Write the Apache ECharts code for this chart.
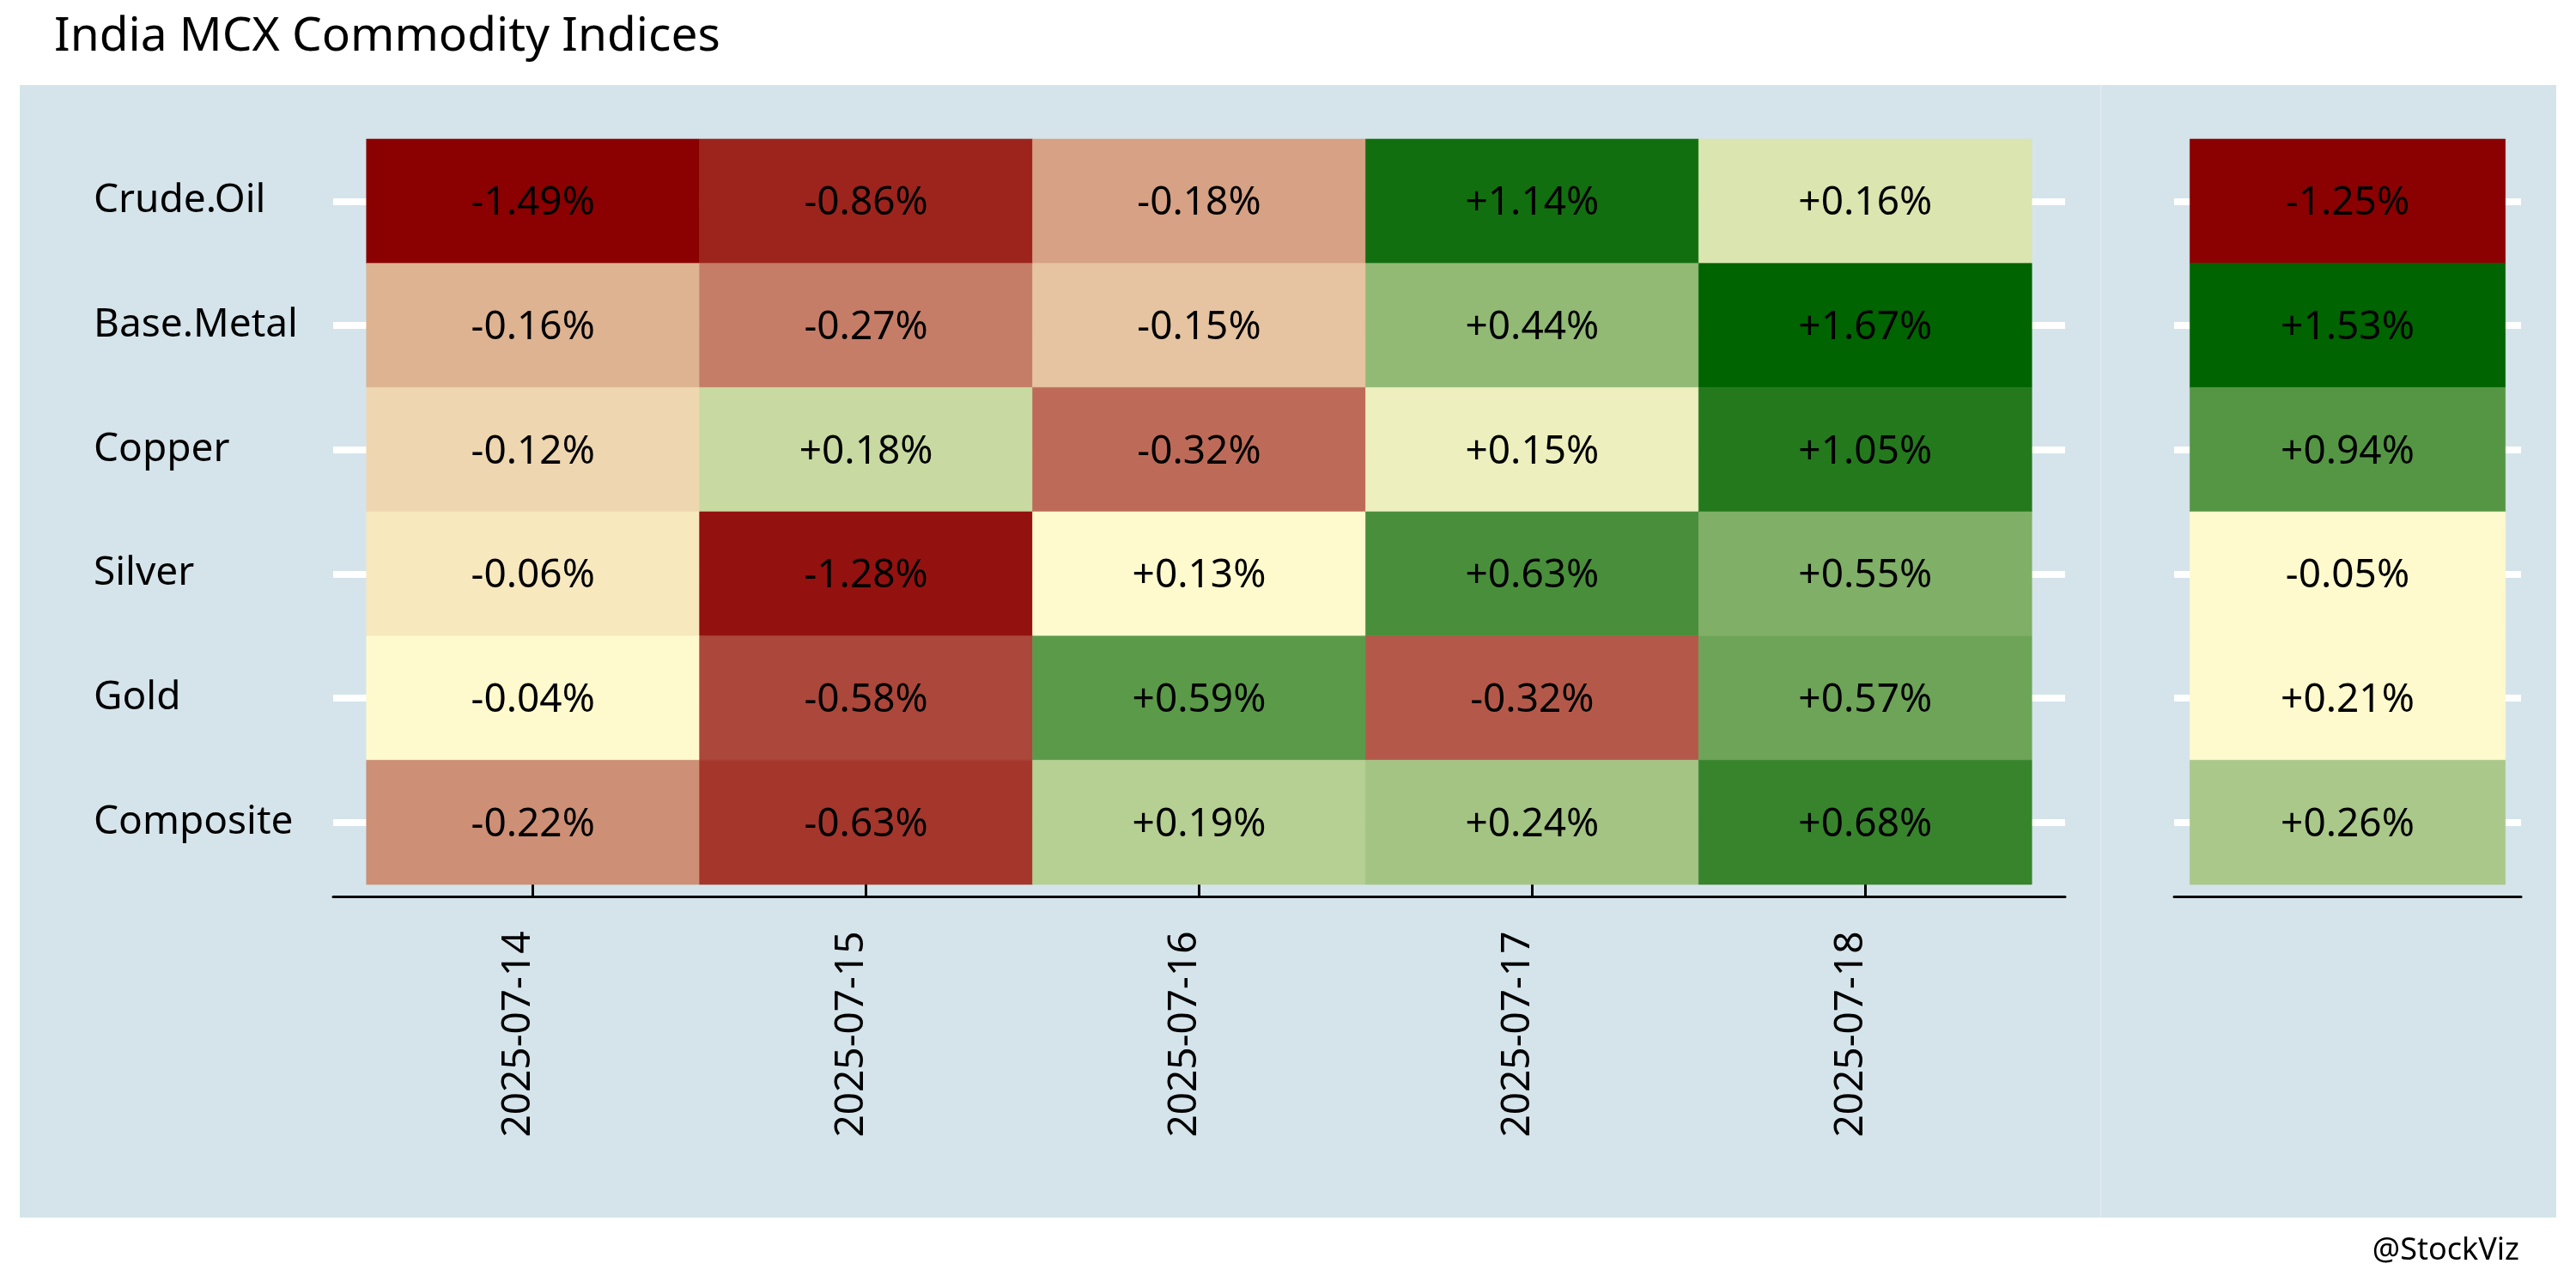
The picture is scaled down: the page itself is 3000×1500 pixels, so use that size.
<!DOCTYPE html>
<html>
<head>
<meta charset="utf-8">
<script src="https://cdn.jsdelivr.net/npm/echarts@6/dist/echarts.min.js"></script>
<style>html,body{margin:0;padding:0;background:#fff}#c{width:3000px;height:1500px}</style>
</head>
<body>
<div id="c"></div>
<script>
// ---- data ----
const commodities = ['Crude.Oil', 'Base.Metal', 'Copper', 'Silver', 'Gold', 'Composite'];
const dates = ['2025-07-14', '2025-07-15', '2025-07-16', '2025-07-17', '2025-07-18'];
const crudeOil  = [-1.49, -0.86, -0.18,  1.14, 0.16];
const baseMetal = [-0.16, -0.27, -0.15,  0.44, 1.67];
const copper    = [-0.12,  0.18, -0.318, 0.15, 1.05];
const silver    = [-0.06, -1.28,  0.13,  0.63, 0.55];
const gold      = [-0.04, -0.58,  0.59, -0.324, 0.57];
const composite = [-0.22, -0.63,  0.19,  0.24, 0.68];
const weekly    = [-1.25, 1.53, 0.94, -0.05, 0.21, 0.26];

const FONT = '"Noto Sans", "Open Sans", sans-serif';
const rows = [crudeOil, baseMetal, copper, silver, gold, composite];

// rank-based diverging position: negatives -> [-1,0], positives -> [0,1]
function rankPos(values) {
  const neg = values.filter(v => v < 0).sort((a, b) => a - b);
  const pos = values.filter(v => v >= 0).sort((a, b) => a - b);
  return values.map(v => v < 0
    ? -1 + neg.indexOf(v) / Math.max(1, neg.length - 1)
    : pos.indexOf(v) / Math.max(1, pos.length - 1));
}

const dailyFlat = [];
rows.forEach((r, yi) => r.forEach((v, xi) => dailyFlat.push([xi, yi, v])));
const dailyT = rankPos(dailyFlat.map(d => d[2]));
const dailyData = dailyFlat.map((d, i) => [d[0], d[1], d[2], dailyT[i]]);

const weeklyT = rankPos(weekly);
const weeklyData = weekly.map((v, yi) => [0, yi, v, weeklyT[yi]]);

function fmt(v) { return (v > 0 ? '+' : '') + v.toFixed(2) + '%'; }

function renderCell(params, api) {
  const x = api.value(0), y = api.value(1);
  const p0 = api.coord([x - 0.5, y - 0.5]);
  const p1 = api.coord([x + 0.5, y + 0.5]);
  return {
    type: 'rect',
    shape: {
      x: Math.min(p0[0], p1[0]), y: Math.min(p0[1], p1[1]),
      width: Math.abs(p1[0] - p0[0]), height: Math.abs(p1[1] - p0[1])
    },
    style: { fill: api.visual('color'), stroke: api.visual('color'), lineWidth: 0.6 },
    textContent: {
      style: { text: fmt(api.value(2)), fill: '#000', fontSize: 46, fontFamily: FONT }
    },
    textConfig: { position: 'inside', offset: [0, 3] }
  };
}

const rowIdx = commodities.map((_, i) => i);
const dateIdx = dates.map((_, i) => i);

const chart = echarts.init(document.getElementById('c'), null, { renderer: 'canvas' });
chart.setOption({
  backgroundColor: '#ffffff',
  animation: false,
  textStyle: { fontFamily: FONT },
  title: [
    { text: 'India MCX Commodity Indices', left: 63, top: 16, padding: 0,
      textStyle: { fontSize: 55, fontWeight: 'normal', color: '#000', fontFamily: FONT } },
    { text: '@StockViz', right: 66, top: 1439, padding: 0,
      textStyle: { fontSize: 36, fontWeight: 'normal', color: '#000', fontFamily: FONT } }
  ],
  graphic: [
    { type: 'rect', z: -10, silent: true, shape: { x: 23, y: 99, width: 2423, height: 1319 }, style: { fill: '#d5e4eb' } },
    { type: 'rect', z: -10, silent: true, shape: { x: 2447, y: 99, width: 530, height: 1319 }, style: { fill: '#d5e4eb' } },
    { type: 'rect', z: -10, silent: true, shape: { x: 2446, y: 99, width: 1, height: 1319 }, style: { fill: '#e4ecf1' } }
  ],
  grid: [
    { left: 388, top: 147.5, width: 2017, height: 897, containLabel: false },
    { left: 2532, top: 147.5, width: 404, height: 897, containLabel: false }
  ],
  xAxis: [
    {
      type: 'value', gridIndex: 0, min: -0.6, max: 4.6, position: 'bottom',
      axisLine: { show: true, onZero: false, lineStyle: { color: '#000', width: 3 } },
      axisTick: { show: true, inside: true, length: 20, customValues: dateIdx, lineStyle: { color: '#000', width: 3 } },
      axisLabel: {
        show: true, customValues: dateIdx, rotate: 90, margin: 40,
        formatter: v => dates[Math.round(v)] || '',
        fontSize: 46, color: '#000', fontFamily: FONT,
        verticalAlign: 'bottom', lineHeight: 33
      },
      splitLine: { show: false }
    },
    {
      type: 'value', gridIndex: 1, min: -0.55, max: 0.55, position: 'bottom',
      axisLine: { show: true, onZero: false, lineStyle: { color: '#000', width: 3 } },
      axisTick: { show: false },
      axisLabel: { show: false },
      splitLine: { show: false }
    }
  ],
  yAxis: [
    {
      type: 'value', gridIndex: 0, min: -0.6, max: 5.6, inverse: true, position: 'left',
      axisLine: { show: false, onZero: false },
      axisTick: { show: true, inside: true, length: 2017, customValues: rowIdx, lineStyle: { color: '#ffffff', width: 8 } },
      axisLabel: {
        show: true, customValues: rowIdx, margin: 279, align: 'left',
        formatter: v => commodities[Math.round(v)] || '',
        fontSize: 46, color: '#000', fontFamily: FONT, padding: [6, 0, 0, 0]
      },
      splitLine: { show: false }
    },
    {
      type: 'value', gridIndex: 1, min: -0.6, max: 5.6, inverse: true, position: 'left',
      axisLine: { show: false, onZero: false },
      axisTick: { show: true, inside: true, length: 404, customValues: rowIdx, lineStyle: { color: '#ffffff', width: 8 } },
      axisLabel: { show: false },
      splitLine: { show: false }
    }
  ],
  visualMap: [{
    type: 'continuous', show: false, dimension: 3, min: -1, max: 1,
    seriesIndex: [0, 1],
    inRange: { color: ['#8B0000', '#FFFACD', '#006400'] }
  }],
  series: [
    { type: 'custom', name: 'daily', xAxisIndex: 0, yAxisIndex: 0, data: dailyData,
      encode: { x: 0, y: 1 }, renderItem: renderCell, z: 5 },
    { type: 'custom', name: 'week', xAxisIndex: 1, yAxisIndex: 1, data: weeklyData,
      encode: { x: 0, y: 1 }, renderItem: renderCell, z: 5 }
  ]
});
</script>
</body>
</html>
